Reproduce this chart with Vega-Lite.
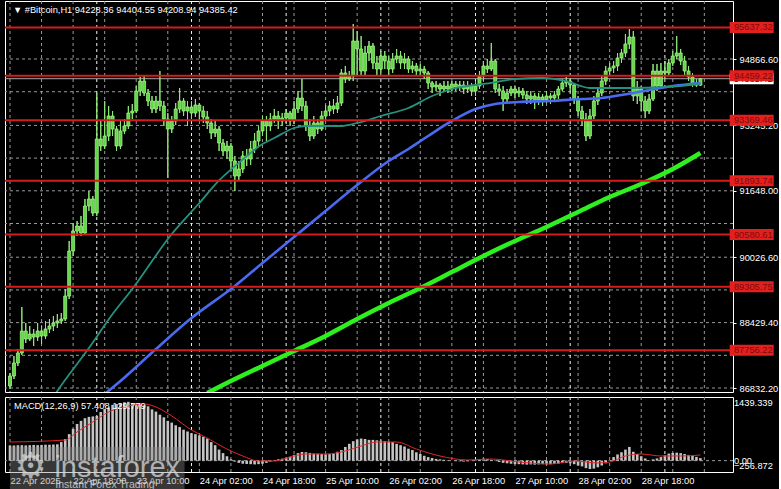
{
  "$schema": "https://vega.github.io/schema/vega-lite/v6.json",
  "background": "#000000",
  "padding": {"left": 3, "top": 0, "right": 0, "bottom": 0},
  "spacing": 2,
  "config": {
    "view": {"stroke": "#ffffff", "strokeWidth": 1},
    "font": "Liberation Sans",
    "axis": {
      "labelFont": "Liberation Sans",
      "labelFontSize": 9.3,
      "labelColor": "#ffffff",
      "domain": false,
      "grid": false,
      "tickColor": "#ffffff"
    }
  },
  "datasets": {
    "bars": [
      {"i":0,"o":86881,"h":87199,"l":86808,"c":87126,"m":340},
      {"i":1,"o":87126,"h":87614,"l":87052,"c":87443,"m":345},
      {"i":2,"o":87443,"h":87785,"l":87370,"c":87687,"m":350},
      {"i":3,"o":87687,"h":88810,"l":87638,"c":88224,"m":350},
      {"i":4,"o":88224,"h":88420,"l":87931,"c":88029,"m":345},
      {"i":5,"o":88029,"h":88347,"l":87980,"c":88151,"m":350},
      {"i":6,"o":88151,"h":88273,"l":87858,"c":88077,"m":355},
      {"i":7,"o":88077,"h":88420,"l":87980,"c":88224,"m":350},
      {"i":8,"o":88224,"h":88347,"l":87907,"c":88102,"m":355},
      {"i":9,"o":88102,"h":88469,"l":88029,"c":88273,"m":360},
      {"i":10,"o":88273,"h":88518,"l":88175,"c":88347,"m":360},
      {"i":11,"o":88347,"h":88591,"l":88224,"c":88420,"m":365},
      {"i":12,"o":88420,"h":88640,"l":88298,"c":88469,"m":370},
      {"i":13,"o":88469,"h":88664,"l":88396,"c":88518,"m":420},
      {"i":14,"o":88518,"h":89250,"l":88469,"c":89079,"m":489},
      {"i":15,"o":89079,"h":90422,"l":89006,"c":90178,"m":600},
      {"i":16,"o":90178,"h":90862,"l":90056,"c":90666,"m":720},
      {"i":17,"o":90666,"h":90911,"l":90544,"c":90789,"m":830},
      {"i":18,"o":90789,"h":91033,"l":90544,"c":90618,"m":900},
      {"i":19,"o":90618,"h":91448,"l":90569,"c":91277,"m":960},
      {"i":20,"o":91277,"h":91643,"l":91155,"c":91448,"m":990},
      {"i":21,"o":91448,"h":91521,"l":91033,"c":91106,"m":1000},
      {"i":22,"o":91106,"h":94036,"l":91033,"c":92913,"m":1010},
      {"i":23,"o":92913,"h":93353,"l":92620,"c":92742,"m":1100},
      {"i":24,"o":92742,"h":93841,"l":92669,"c":92986,"m":1170},
      {"i":25,"o":92986,"h":93719,"l":92864,"c":93475,"m":1200},
      {"i":26,"o":93475,"h":93597,"l":92986,"c":93157,"m":1260},
      {"i":27,"o":93157,"h":93231,"l":92620,"c":92742,"m":1280},
      {"i":28,"o":92742,"h":93353,"l":92669,"c":93108,"m":1300},
      {"i":29,"o":93108,"h":93401,"l":93035,"c":93231,"m":1320},
      {"i":30,"o":93231,"h":93719,"l":93157,"c":93548,"m":1330},
      {"i":31,"o":93548,"h":93768,"l":93401,"c":93597,"m":1300},
      {"i":32,"o":93597,"h":94207,"l":93548,"c":94085,"m":1290},
      {"i":33,"o":94085,"h":94427,"l":93963,"c":94329,"m":1270},
      {"i":34,"o":94329,"h":94451,"l":93963,"c":94036,"m":1250},
      {"i":35,"o":94036,"h":94134,"l":93719,"c":93841,"m":1230},
      {"i":36,"o":93841,"h":93963,"l":93548,"c":93646,"m":1160},
      {"i":37,"o":93646,"h":93963,"l":93548,"c":93841,"m":1110},
      {"i":38,"o":93841,"h":94574,"l":93597,"c":93719,"m":1040},
      {"i":39,"o":93719,"h":93841,"l":93231,"c":93401,"m":980},
      {"i":40,"o":93401,"h":93548,"l":91961,"c":93157,"m":900},
      {"i":41,"o":93157,"h":93475,"l":93060,"c":93353,"m":860},
      {"i":42,"o":93353,"h":93792,"l":93255,"c":93646,"m":800},
      {"i":43,"o":93646,"h":94158,"l":93548,"c":93841,"m":760},
      {"i":44,"o":93841,"h":93914,"l":93475,"c":93597,"m":700},
      {"i":45,"o":93597,"h":93841,"l":93231,"c":93695,"m":660},
      {"i":46,"o":93695,"h":93841,"l":93401,"c":93548,"m":620},
      {"i":47,"o":93548,"h":93890,"l":93450,"c":93743,"m":600},
      {"i":48,"o":93743,"h":93792,"l":93353,"c":93597,"m":570},
      {"i":49,"o":93597,"h":93719,"l":93304,"c":93450,"m":540},
      {"i":50,"o":93450,"h":93597,"l":93157,"c":93304,"m":500},
      {"i":51,"o":93304,"h":93401,"l":92913,"c":93060,"m":420},
      {"i":52,"o":93060,"h":93353,"l":92962,"c":93157,"m":350},
      {"i":53,"o":93157,"h":93231,"l":92620,"c":92815,"m":250},
      {"i":54,"o":92815,"h":92913,"l":92498,"c":92620,"m":170},
      {"i":55,"o":92620,"h":92864,"l":92425,"c":92742,"m":100},
      {"i":56,"o":92742,"h":92815,"l":92132,"c":92376,"m":30},
      {"i":57,"o":92376,"h":92498,"l":91643,"c":92009,"m":-20},
      {"i":58,"o":92009,"h":92376,"l":91887,"c":92180,"m":-50},
      {"i":59,"o":92180,"h":92620,"l":92083,"c":92498,"m":-70},
      {"i":60,"o":92498,"h":92669,"l":92254,"c":92425,"m":-75},
      {"i":61,"o":92425,"h":92864,"l":92278,"c":92669,"m":-80},
      {"i":62,"o":92669,"h":93060,"l":92571,"c":92864,"m":-85},
      {"i":63,"o":92864,"h":93231,"l":92742,"c":93108,"m":-80},
      {"i":64,"o":93108,"h":93475,"l":92986,"c":93353,"m":-70},
      {"i":65,"o":93353,"h":93475,"l":92864,"c":93231,"m":-50},
      {"i":66,"o":93231,"h":93548,"l":93108,"c":93401,"m":-20},
      {"i":67,"o":93401,"h":93646,"l":93304,"c":93475,"m":10},
      {"i":68,"o":93475,"h":93597,"l":93157,"c":93353,"m":30},
      {"i":69,"o":93353,"h":93548,"l":93231,"c":93426,"m":45},
      {"i":70,"o":93426,"h":93646,"l":93304,"c":93548,"m":60},
      {"i":71,"o":93548,"h":93597,"l":93231,"c":93353,"m":90},
      {"i":72,"o":93353,"h":93841,"l":93280,"c":93646,"m":130},
      {"i":73,"o":93646,"h":94085,"l":93548,"c":93914,"m":170},
      {"i":74,"o":93914,"h":94378,"l":93597,"c":93719,"m":195},
      {"i":75,"o":93719,"h":93841,"l":93108,"c":93231,"m":190},
      {"i":76,"o":93231,"h":93401,"l":92864,"c":92986,"m":175},
      {"i":77,"o":92986,"h":93475,"l":92913,"c":93304,"m":160},
      {"i":78,"o":93304,"h":93401,"l":93035,"c":93157,"m":155},
      {"i":79,"o":93157,"h":93597,"l":93108,"c":93475,"m":150},
      {"i":80,"o":93475,"h":93743,"l":93353,"c":93597,"m":145},
      {"i":81,"o":93597,"h":93841,"l":93475,"c":93719,"m":150},
      {"i":82,"o":93719,"h":93890,"l":93524,"c":93646,"m":160},
      {"i":83,"o":93646,"h":93963,"l":93548,"c":93792,"m":200},
      {"i":84,"o":93792,"h":94622,"l":93719,"c":94525,"m":240},
      {"i":85,"o":94525,"h":94696,"l":94281,"c":94378,"m":310},
      {"i":86,"o":94378,"h":94574,"l":94329,"c":94451,"m":380},
      {"i":87,"o":94451,"h":95721,"l":94329,"c":95306,"m":440},
      {"i":88,"o":95306,"h":95550,"l":94451,"c":95111,"m":480},
      {"i":89,"o":95111,"h":95428,"l":94451,"c":94574,"m":500},
      {"i":90,"o":94574,"h":95184,"l":94451,"c":95013,"m":490},
      {"i":91,"o":95013,"h":95306,"l":94818,"c":95184,"m":470},
      {"i":92,"o":95184,"h":95257,"l":94622,"c":94769,"m":470},
      {"i":93,"o":94769,"h":94940,"l":94451,"c":94622,"m":460},
      {"i":94,"o":94622,"h":95062,"l":94525,"c":94940,"m":450},
      {"i":95,"o":94940,"h":95062,"l":94622,"c":94818,"m":440},
      {"i":96,"o":94818,"h":94940,"l":94451,"c":94622,"m":430},
      {"i":97,"o":94622,"h":95013,"l":94525,"c":94867,"m":420},
      {"i":98,"o":94867,"h":95111,"l":94769,"c":94940,"m":380},
      {"i":99,"o":94940,"h":95062,"l":94622,"c":94769,"m":350},
      {"i":100,"o":94769,"h":95013,"l":94622,"c":94867,"m":320},
      {"i":101,"o":94867,"h":94940,"l":94525,"c":94622,"m":270},
      {"i":102,"o":94622,"h":94818,"l":94525,"c":94696,"m":240},
      {"i":103,"o":94696,"h":94769,"l":94451,"c":94574,"m":190},
      {"i":104,"o":94574,"h":94745,"l":94476,"c":94622,"m":150},
      {"i":105,"o":94622,"h":94696,"l":94378,"c":94525,"m":110},
      {"i":106,"o":94525,"h":94574,"l":94134,"c":94281,"m":80},
      {"i":107,"o":94281,"h":94329,"l":94036,"c":94183,"m":60},
      {"i":108,"o":94183,"h":94329,"l":94085,"c":94232,"m":40},
      {"i":109,"o":94232,"h":94281,"l":93963,"c":94134,"m":30},
      {"i":110,"o":94134,"h":94329,"l":94085,"c":94207,"m":20},
      {"i":111,"o":94207,"h":94329,"l":94036,"c":94134,"m":10},
      {"i":112,"o":94134,"h":94329,"l":94085,"c":94256,"m":0},
      {"i":113,"o":94256,"h":94329,"l":94085,"c":94183,"m":-10},
      {"i":114,"o":94183,"h":94329,"l":94085,"c":94232,"m":-15},
      {"i":115,"o":94232,"h":94329,"l":94012,"c":94134,"m":-20},
      {"i":116,"o":94134,"h":94329,"l":94036,"c":94207,"m":-15},
      {"i":117,"o":94207,"h":94281,"l":93963,"c":94085,"m":-5},
      {"i":118,"o":94085,"h":94329,"l":93963,"c":94207,"m":10},
      {"i":119,"o":94207,"h":94574,"l":94134,"c":94451,"m":30},
      {"i":120,"o":94451,"h":94818,"l":94329,"c":94696,"m":45},
      {"i":121,"o":94696,"h":94867,"l":94525,"c":94622,"m":40},
      {"i":122,"o":94622,"h":95257,"l":94574,"c":94818,"m":20},
      {"i":123,"o":94818,"h":94867,"l":94036,"c":94134,"m":-10},
      {"i":124,"o":94134,"h":94256,"l":93963,"c":94085,"m":-30},
      {"i":125,"o":94085,"h":94207,"l":93597,"c":93890,"m":-50},
      {"i":126,"o":93890,"h":94134,"l":93792,"c":94036,"m":-60},
      {"i":127,"o":94036,"h":94207,"l":93963,"c":94134,"m":-70},
      {"i":128,"o":94134,"h":94207,"l":93914,"c":94036,"m":-80},
      {"i":129,"o":94036,"h":94183,"l":93939,"c":94085,"m":-80},
      {"i":130,"o":94085,"h":94158,"l":93890,"c":93988,"m":-85},
      {"i":131,"o":93988,"h":94085,"l":93768,"c":93890,"m":-90},
      {"i":132,"o":93890,"h":94085,"l":93768,"c":93963,"m":-85},
      {"i":133,"o":93963,"h":94036,"l":93646,"c":93841,"m":-90},
      {"i":134,"o":93841,"h":94036,"l":93743,"c":93939,"m":-85},
      {"i":135,"o":93939,"h":94012,"l":93719,"c":93866,"m":-80},
      {"i":136,"o":93866,"h":94085,"l":93792,"c":93963,"m":-85},
      {"i":137,"o":93963,"h":94036,"l":93768,"c":93914,"m":-80},
      {"i":138,"o":93914,"h":94085,"l":93841,"c":93988,"m":-75},
      {"i":139,"o":93988,"h":94207,"l":93890,"c":94134,"m":-70},
      {"i":140,"o":94134,"h":94378,"l":94085,"c":94281,"m":-55},
      {"i":141,"o":94281,"h":94427,"l":94183,"c":94329,"m":-50},
      {"i":142,"o":94329,"h":94403,"l":94085,"c":94232,"m":-60},
      {"i":143,"o":94232,"h":94281,"l":93768,"c":93890,"m":-80},
      {"i":144,"o":93890,"h":93963,"l":93475,"c":93597,"m":-110},
      {"i":145,"o":93597,"h":93719,"l":93231,"c":93401,"m":-130},
      {"i":146,"o":93401,"h":93548,"l":92864,"c":92986,"m":-170},
      {"i":147,"o":92986,"h":93646,"l":92913,"c":93475,"m":-190},
      {"i":148,"o":93475,"h":93963,"l":93401,"c":93841,"m":-180},
      {"i":149,"o":93841,"h":94183,"l":93743,"c":94036,"m":-150},
      {"i":150,"o":94036,"h":94451,"l":93963,"c":94329,"m":-110},
      {"i":151,"o":94329,"h":94696,"l":94232,"c":94574,"m":-60},
      {"i":152,"o":94574,"h":94769,"l":94451,"c":94647,"m":10},
      {"i":153,"o":94647,"h":94818,"l":94525,"c":94696,"m":80},
      {"i":154,"o":94696,"h":95013,"l":94574,"c":94891,"m":140},
      {"i":155,"o":94891,"h":95111,"l":94769,"c":95013,"m":190},
      {"i":156,"o":95013,"h":95477,"l":94916,"c":95233,"m":250},
      {"i":157,"o":95233,"h":95599,"l":95111,"c":95404,"m":310},
      {"i":158,"o":95404,"h":95550,"l":93841,"c":93963,"m":200},
      {"i":159,"o":93963,"h":94329,"l":93768,"c":94134,"m":150},
      {"i":160,"o":94134,"h":94207,"l":93597,"c":93841,"m":100},
      {"i":161,"o":93841,"h":93963,"l":93426,"c":93597,"m":50},
      {"i":162,"o":93597,"h":94012,"l":93524,"c":93890,"m":10},
      {"i":163,"o":93890,"h":94745,"l":93841,"c":94574,"m":30},
      {"i":164,"o":94574,"h":94745,"l":94085,"c":94207,"m":50},
      {"i":165,"o":94207,"h":94769,"l":94134,"c":94574,"m":80},
      {"i":166,"o":94574,"h":94818,"l":94378,"c":94525,"m":120},
      {"i":167,"o":94525,"h":94867,"l":94451,"c":94769,"m":160},
      {"i":168,"o":94769,"h":95062,"l":94696,"c":94940,"m":175},
      {"i":169,"o":94940,"h":95428,"l":94867,"c":95013,"m":180},
      {"i":170,"o":95013,"h":95111,"l":94720,"c":94818,"m":170},
      {"i":171,"o":94818,"h":94940,"l":94476,"c":94574,"m":150},
      {"i":172,"o":94574,"h":94696,"l":94329,"c":94427,"m":130},
      {"i":173,"o":94427,"h":94525,"l":94183,"c":94281,"m":110},
      {"i":174,"o":94281,"h":94378,"l":94183,"c":94228.36,"m":85},
      {"i":175,"o":94228.36,"h":94404.55,"l":94208.94,"c":94385.42,"m":57.408}
    ],
    "ma": [
      {"s":"t","i":10,"v":86466},{"s":"t","i":12,"v":86759},{"s":"t","i":20,"v":87809},
      {"s":"t","i":26,"v":88640},{"s":"t","i":31,"v":89250},{"s":"t","i":41,"v":90593},
      {"s":"t","i":48,"v":91350},{"s":"t","i":53,"v":91900},{"s":"t","i":58,"v":92330},
      {"s":"t","i":64,"v":92790},{"s":"t","i":67,"v":92937},{"s":"t","i":72,"v":93182},
      {"s":"t","i":75,"v":93231},{"s":"t","i":84,"v":93231},{"s":"t","i":88,"v":93304},
      {"s":"t","i":94,"v":93475},{"s":"t","i":101,"v":93670},{"s":"t","i":107,"v":93963},
      {"s":"t","i":112,"v":94134},{"s":"t","i":122,"v":94281},{"s":"t","i":128,"v":94378},
      {"s":"t","i":135,"v":94403},{"s":"t","i":141,"v":94329},{"s":"t","i":147,"v":94158},
      {"s":"t","i":157,"v":94158},{"s":"t","i":166,"v":94183},{"s":"t","i":175,"v":94256},
      {"s":"b","i":24,"v":86686},{"s":"b","i":28,"v":87003},{"s":"b","i":37,"v":87785},
      {"s":"b","i":46,"v":88542},{"s":"b","i":57,"v":89323},{"s":"b","i":64,"v":89885},
      {"s":"b","i":72,"v":90520},{"s":"b","i":80,"v":91155},{"s":"b","i":88,"v":91790},
      {"s":"b","i":96,"v":92376},{"s":"b","i":101,"v":92669},{"s":"b","i":106,"v":92986},
      {"s":"b","i":112,"v":93353},{"s":"b","i":118,"v":93646},{"s":"b","i":123,"v":93768},
      {"s":"b","i":129,"v":93817},{"s":"b","i":137,"v":93841},{"s":"b","i":145,"v":93890},
      {"s":"b","i":150,"v":93914},{"s":"b","i":155,"v":93988},{"s":"b","i":162,"v":94110},
      {"s":"b","i":168,"v":94207},{"s":"b","i":175,"v":94281},
      {"s":"g","i":50,"v":86710},{"s":"g","i":56,"v":87003},{"s":"g","i":64,"v":87370},
      {"s":"g","i":72,"v":87736},{"s":"g","i":80,"v":88102},{"s":"g","i":88,"v":88517},
      {"s":"g","i":96,"v":88908},{"s":"g","i":104,"v":89274},{"s":"g","i":112,"v":89665},
      {"s":"g","i":120,"v":90056},{"s":"g","i":128,"v":90422},{"s":"g","i":136,"v":90764},
      {"s":"g","i":144,"v":91130},{"s":"g","i":152,"v":91497},{"s":"g","i":160,"v":91814},
      {"s":"g","i":168,"v":92180},{"s":"g","i":175,"v":92571}
    ],
    "signal": [
      {"i":0,"v":421},{"i":14,"v":467},{"i":17,"v":648},{"i":21,"v":874},{"i":25,"v":1100},
      {"i":30,"v":1236},{"i":34,"v":1281},{"i":37,"v":1213},{"i":41,"v":1010},{"i":46,"v":693},
      {"i":50,"v":512},{"i":54,"v":308},{"i":59,"v":105},{"i":63,"v":-8},{"i":67,"v":-8},
      {"i":71,"v":82},{"i":75,"v":150},{"i":80,"v":150},{"i":85,"v":218},{"i":89,"v":331},
      {"i":93,"v":421},{"i":98,"v":421},{"i":103,"v":263},{"i":109,"v":105},{"i":116,"v":15},
      {"i":122,"v":37},{"i":129,"v":-31},{"i":137,"v":-76},{"i":143,"v":-8},{"i":149,"v":-53},
      {"i":152,"v":-31},{"i":156,"v":105},{"i":160,"v":150},{"i":165,"v":105},{"i":170,"v":105},
      {"i":175,"v":128}
    ],
    "levels": [
      {"p":95637.32},{"p":94459.22},{"p":93369.46},{"p":91893.74},
      {"p":90580.61},{"p":89305.75},{"p":87756.22}
    ],
    "priceGrid": [
      {"p":94866.6},{"p":94068},{"p":93245.2},{"p":92446.6},{"p":91648},{"p":90849.4},
      {"p":90026.6},{"p":89228},{"p":88429.4},{"p":87630.8},{"p":86832.2}
    ],
    "timeGrid": [
      {"i":0},{"i":8},{"i":16},{"i":24},{"i":32},{"i":40},{"i":48},{"i":56},{"i":64},{"i":72},
      {"i":80},{"i":88},{"i":96},{"i":104},{"i":112},{"i":120},{"i":128},{"i":136},{"i":144},
      {"i":152},{"i":160},{"i":168},{"i":176}
    ],
    "seps": [{"i":22},{"i":46},{"i":70},{"i":94},{"i":118},{"i":142},{"i":166}],
    "quote": [{"sym":"#Bitcoin,H1","o":94228.36,"h":94404.55,"l":94208.94,"c":94385.42}]
  },
  "vconcat": [
    {
      "width": 728,
      "height": 391,
      "layer": [
        {
          "data": {"name": "bars"},
          "mark": {"type": "rule", "color": "#8fe878", "strokeWidth": 1, "clip": true},
          "encoding": {
            "x": {"field": "i", "type": "quantitative", "scale": {"domain": [0, 182], "nice": false, "zero": false}, "axis": null},
            "y": {
              "field": "l", "type": "quantitative",
              "scale": {"domain": [86735, 96283], "nice": false, "zero": false},
              "axis": {"title": null, "orient": "right", "values": [94866.6,94068,93245.2,92446.6,91648,90849.4,90026.6,89228,88429.4,87630.8,86832.2], "format": ".2f", "grid": false, "tickSize": 3, "labelPadding": 3, "labelOverlap": false}
            },
            "y2": {"field": "h"}
          }
        },
        {
          "data": {"name": "timeGrid"},
          "mark": {"type": "rule", "color": "#9a9a9a", "strokeDash": [3, 3], "strokeWidth": 1},
          "encoding": {
            "x": {"field": "i", "type": "quantitative", "scale": {"domain": [0, 182], "nice": false, "zero": false}}
          }
        },
        {
          "data": {"name": "priceGrid"},
          "mark": {"type": "rule", "color": "#9a9a9a", "strokeDash": [3, 3], "strokeWidth": 1},
          "encoding": {
            "y": {"field": "p", "type": "quantitative", "scale": {"domain": [86735, 96283], "nice": false, "zero": false}}
          }
        },
        {
          "data": {"name": "seps"},
          "mark": {"type": "rule", "color": "#f4f4f4", "strokeDash": [3, 3], "strokeWidth": 1},
          "encoding": {
            "x": {"field": "i", "type": "quantitative", "scale": {"domain": [0, 182], "nice": false, "zero": false}}
          }
        },
        {
          "data": {"name": "quote"},
          "mark": {"type": "rule", "color": "#a8a8a8", "strokeWidth": 1},
          "encoding": {
            "y": {"field": "c", "type": "quantitative", "scale": {"domain": [86735, 96283], "nice": false, "zero": false}}
          }
        },
        {
          "data": {"name": "bars"},
          "mark": {"type": "rule", "color": "#8fe878", "strokeWidth": 1, "clip": true},
          "encoding": {
            "x": {"field": "i", "type": "quantitative", "scale": {"domain": [0, 182], "nice": false, "zero": false}},
            "y": {"field": "l", "type": "quantitative", "scale": {"domain": [86735, 96283], "nice": false, "zero": false}},
            "y2": {"field": "h"}
          }
        },
        {
          "data": {"name": "bars"},
          "mark": {"type": "bar", "width": 3, "orient": "vertical", "fill": "#5fd843", "stroke": "#a4f28c", "strokeWidth": 0.8, "clip": true},
          "encoding": {
            "x": {"field": "i", "type": "quantitative", "scale": {"domain": [0, 182], "nice": false, "zero": false}},
            "y": {"field": "o", "type": "quantitative", "scale": {"domain": [86735, 96283], "nice": false, "zero": false}},
            "y2": {"field": "c"}
          }
        },
        {
          "data": {"name": "ma"},
          "transform": [{"filter": "datum.s == 'g'"}],
          "mark": {"type": "line", "color": "#2ef01e", "strokeWidth": 4.5, "interpolate": "monotone", "clip": true},
          "encoding": {
            "x": {"field": "i", "type": "quantitative", "scale": {"domain": [0, 182], "nice": false, "zero": false}},
            "y": {"field": "v", "type": "quantitative", "scale": {"domain": [86735, 96283], "nice": false, "zero": false}}
          }
        },
        {
          "data": {"name": "ma"},
          "transform": [{"filter": "datum.s == 'b'"}],
          "mark": {"type": "line", "color": "#4a6af0", "strokeWidth": 2.6, "interpolate": "monotone", "clip": true},
          "encoding": {
            "x": {"field": "i", "type": "quantitative", "scale": {"domain": [0, 182], "nice": false, "zero": false}},
            "y": {"field": "v", "type": "quantitative", "scale": {"domain": [86735, 96283], "nice": false, "zero": false}}
          }
        },
        {
          "data": {"name": "ma"},
          "transform": [{"filter": "datum.s == 't'"}],
          "mark": {"type": "line", "color": "#26917f", "strokeWidth": 1.8, "interpolate": "monotone", "clip": true},
          "encoding": {
            "x": {"field": "i", "type": "quantitative", "scale": {"domain": [0, 182], "nice": false, "zero": false}},
            "y": {"field": "v", "type": "quantitative", "scale": {"domain": [86735, 96283], "nice": false, "zero": false}}
          }
        },
        {
          "data": {"name": "levels"},
          "mark": {"type": "rule", "color": "#d41c1c", "strokeWidth": 2},
          "encoding": {
            "y": {"field": "p", "type": "quantitative", "scale": {"domain": [86735, 96283], "nice": false, "zero": false}}
          }
        },
        {
          "data": {"name": "quote"},
          "mark": {"type": "tick", "orient": "horizontal", "size": 44, "thickness": 11, "color": "#ffffff", "opacity": 1},
          "encoding": {
            "x": {"datum": 188, "type": "quantitative", "scale": {"domain": [0, 182], "nice": false, "zero": false}},
            "y": {"field": "c", "type": "quantitative", "scale": {"domain": [86735, 96283], "nice": false, "zero": false}}
          }
        },
        {
          "data": {"name": "quote"},
          "mark": {"type": "text", "align": "left", "baseline": "middle", "fontSize": 9.3, "color": "#000000"},
          "encoding": {
            "x": {"datum": 183.5, "type": "quantitative", "scale": {"domain": [0, 182], "nice": false, "zero": false}},
            "y": {"field": "c", "type": "quantitative", "scale": {"domain": [86735, 96283], "nice": false, "zero": false}},
            "text": {"field": "c", "format": ".2f"}
          }
        },
        {
          "data": {"name": "levels"},
          "mark": {"type": "tick", "orient": "horizontal", "size": 44, "thickness": 11, "color": "#e3201e", "opacity": 1},
          "encoding": {
            "x": {"datum": 188, "type": "quantitative", "scale": {"domain": [0, 182], "nice": false, "zero": false}},
            "y": {"field": "p", "type": "quantitative", "scale": {"domain": [86735, 96283], "nice": false, "zero": false}}
          }
        },
        {
          "data": {"name": "levels"},
          "mark": {"type": "text", "align": "left", "baseline": "middle", "fontSize": 9.3, "color": "#7a0c0c"},
          "encoding": {
            "x": {"datum": 183.5, "type": "quantitative", "scale": {"domain": [0, 182], "nice": false, "zero": false}},
            "y": {"field": "p", "type": "quantitative", "scale": {"domain": [86735, 96283], "nice": false, "zero": false}},
            "text": {"field": "p", "format": ".2f"}
          }
        },
        {
          "data": {"name": "quote"},
          "mark": {"type": "text", "align": "left", "baseline": "middle", "fontSize": 9.3, "color": "#ffffff"},
          "encoding": {
            "x": {"datum": 0.75, "type": "quantitative", "scale": {"domain": [0, 182], "nice": false, "zero": false}},
            "y": {"datum": 96063, "type": "quantitative", "scale": {"domain": [86735, 96283], "nice": false, "zero": false}},
            "text": {"value": "▼  #Bitcoin,H1  94228.36 94404.55 94208.94 94385.42"}
          }
        }
      ]
    },
    {
      "width": 728,
      "height": 75,
      "layer": [
        {
          "data": {"name": "timeGrid"},
          "mark": {"type": "rule", "color": "#9a9a9a", "strokeDash": [3, 3], "strokeWidth": 1},
          "encoding": {
            "x": {
              "field": "i", "type": "quantitative",
              "scale": {"domain": [0, 182], "nice": false, "zero": false},
              "axis": {
                "title": null,
                "values": [0,16,32,48,64,80,96,112,128,144,160],
                "labelExpr": "datum.value == 0 ? '22 Apr 2025' : timeFormat(datetime(2025, 3, 22, 2 + datum.value), '%d %b %H:%M')",
                "labelAlign": "left", "labelFlush": false, "labelOverlap": false, "labelPadding": 4,
                "ticks": false, "grid": false
              }
            }
          }
        },
        {
          "data": {"name": "seps"},
          "mark": {"type": "rule", "color": "#f4f4f4", "strokeDash": [3, 3], "strokeWidth": 1},
          "encoding": {
            "x": {"field": "i", "type": "quantitative", "scale": {"domain": [0, 182], "nice": false, "zero": false}}
          }
        },
        {
          "data": {"values": [{"zero": 0}]},
          "mark": {"type": "rule", "color": "#9a9a9a", "strokeDash": [3, 3], "strokeWidth": 1},
          "encoding": {
            "y": {"field": "zero", "type": "quantitative", "scale": {"domain": [-256.872, 1439.339], "nice": false, "zero": false}, "axis": null}
          }
        },
        {
          "data": {"name": "bars"},
          "mark": {"type": "bar", "width": 2.6, "orient": "vertical", "color": "#c4c4c4", "clip": true},
          "encoding": {
            "x": {"field": "i", "type": "quantitative", "scale": {"domain": [0, 182], "nice": false, "zero": false}},
            "y": {"field": "m", "type": "quantitative", "scale": {"domain": [-256.872, 1439.339], "nice": false, "zero": false}},
            "y2": {"datum": 0}
          }
        },
        {
          "data": {"name": "signal"},
          "mark": {"type": "line", "color": "#e0262a", "strokeWidth": 1, "interpolate": "monotone", "clip": true},
          "encoding": {
            "x": {"field": "i", "type": "quantitative", "scale": {"domain": [0, 182], "nice": false, "zero": false}},
            "y": {"field": "v", "type": "quantitative", "scale": {"domain": [-256.872, 1439.339], "nice": false, "zero": false}}
          }
        },
        {
          "data": {"values": [{"label": "MACD(12,26,9) 57.408 129.779"}]},
          "mark": {"type": "text", "align": "left", "baseline": "middle", "fontSize": 9.3, "color": "#ffffff"},
          "encoding": {
            "x": {"datum": 1, "type": "quantitative", "scale": {"domain": [0, 182], "nice": false, "zero": false}},
            "y": {"datum": 1236, "type": "quantitative", "scale": {"domain": [-256.872, 1439.339], "nice": false, "zero": false}},
            "text": {"field": "label"}
          }
        },
        {
          "data": {"values": [{"v": 1439.339}]},
          "mark": {"type": "text", "align": "left", "baseline": "top", "dy": 2, "fontSize": 9.3, "color": "#ffffff"},
          "encoding": {
            "x": {"datum": 183.5, "type": "quantitative", "scale": {"domain": [0, 182], "nice": false, "zero": false}},
            "y": {"field": "v", "type": "quantitative", "scale": {"domain": [-256.872, 1439.339], "nice": false, "zero": false}},
            "text": {"field": "v", "format": ".3f"}
          }
        },
        {
          "data": {"values": [{"v": 0}]},
          "mark": {"type": "text", "align": "left", "baseline": "middle", "fontSize": 9.3, "color": "#ffffff"},
          "encoding": {
            "x": {"datum": 183.5, "type": "quantitative", "scale": {"domain": [0, 182], "nice": false, "zero": false}},
            "y": {"field": "v", "type": "quantitative", "scale": {"domain": [-256.872, 1439.339], "nice": false, "zero": false}},
            "text": {"field": "v", "format": ".2f"}
          }
        },
        {
          "data": {"values": [{"v": -256.872}]},
          "mark": {"type": "text", "align": "left", "baseline": "bottom", "dy": -1, "fontSize": 9.3, "color": "#ffffff"},
          "encoding": {
            "x": {"datum": 183.5, "type": "quantitative", "scale": {"domain": [0, 182], "nice": false, "zero": false}},
            "y": {"field": "v", "type": "quantitative", "scale": {"domain": [-256.872, 1439.339], "nice": false, "zero": false}},
            "text": {"field": "v", "format": ".3f"}
          }
        },
        {
          "data": {"values": [{"brand": "instaforex"}]},
          "mark": {"type": "rect", "color": "#8a8a8a", "opacity": 0.4},
          "encoding": {
            "x": {"datum": 0, "type": "quantitative", "scale": {"domain": [0, 182], "nice": false, "zero": false}},
            "x2": {"datum": 44.25},
            "y": {"datum": 308, "type": "quantitative", "scale": {"domain": [-256.872, 1439.339], "nice": false, "zero": false}},
            "y2": {"datum": -732}
          }
        },
        {
          "data": {"values": [{"glyph": "⚙"}]},
          "mark": {"type": "text", "align": "center", "baseline": "middle", "font": "DejaVu Sans", "fontSize": 36, "color": "#d8d8d8", "opacity": 0.75},
          "encoding": {
            "x": {"datum": 5.25, "type": "quantitative", "scale": {"domain": [0, 182], "nice": false, "zero": false}},
            "y": {"datum": -144, "type": "quantitative", "scale": {"domain": [-256.872, 1439.339], "nice": false, "zero": false}},
            "text": {"field": "glyph"}
          }
        },
        {
          "data": {"values": [{"brand": "instaforex"}]},
          "mark": {"type": "text", "align": "left", "baseline": "alphabetic", "fontSize": 29, "color": "#d8d8d8", "opacity": 0.75},
          "encoding": {
            "x": {"datum": 11.25, "type": "quantitative", "scale": {"domain": [0, 182], "nice": false, "zero": false}},
            "y": {"datum": -370, "type": "quantitative", "scale": {"domain": [-256.872, 1439.339], "nice": false, "zero": false}},
            "text": {"field": "brand"}
          }
        },
        {
          "data": {"values": [{"tagline": "Instant Forex Trading"}]},
          "mark": {"type": "text", "align": "left", "baseline": "alphabetic", "fontSize": 10.5, "color": "#e4e4e4", "opacity": 0.75},
          "encoding": {
            "x": {"datum": 11.5, "type": "quantitative", "scale": {"domain": [0, 182], "nice": false, "zero": false}},
            "y": {"datum": -625, "type": "quantitative", "scale": {"domain": [-256.872, 1439.339], "nice": false, "zero": false}},
            "text": {"field": "tagline"}
          }
        }
      ]
    }
  ]
}
